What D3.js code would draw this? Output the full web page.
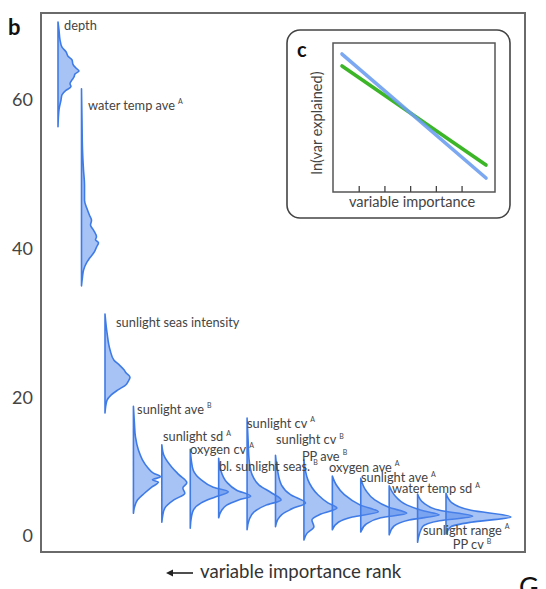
<!DOCTYPE html>
<html><head><meta charset="utf-8">
<script src="https://cdn.jsdelivr.net/npm/d3@7"></script>
<style>body{margin:0;background:#fff}svg{display:block}text{font-family:Lato,"Open Sans",sans-serif}</style>
</head><body><svg id="c" width="546" height="589"></svg>
<script>
// ---- data ----
const variables = ["depth","water temp ave","sunlight seas intensity","sunlight ave","sunlight sd","oxygen cv","bl. sunlight seas.","sunlight cv","sunlight cv","PP ave","oxygen ave","sunlight ave","water temp sd","sunlight range","PP cv"];
const superscripts = ["","A","","B","A","A","B","A","B","B","A","A","A","A","B"];
const ranks = [1,2,3,4,5,6,7,8,9,10,11,12,13,14,15];
// each distribution: [var explained value, density]
const dist1 = [[70.5,0],[69.4,0.1],[68.1,0.2],[67.1,0.4],[66.5,0.8],[65.9,1.0],[65.4,1.4],[64.8,1.5],[64.3,1.8],[63.9,2.1],[63.5,1.7],[63.1,1.6],[62.7,1.4],[62.2,1.2],[61.8,1.3],[61.3,0.8],[60.7,0.4],[60.0,0.3],[58.7,0.1],[56.4,0]];
const dist2 = [[61.5,0],[57.3,0.05],[53.3,0.1],[50.6,0.2],[48.6,0.3],[46.5,0.3],[45.2,0.6],[44.5,0.8],[43.8,1.0],[43.2,0.9],[42.5,1.2],[41.6,1.5],[41.2,1.4],[40.8,1.7],[40.2,1.5],[39.6,1.3],[38.7,0.8],[38.1,0.5],[37.1,0.2],[36.2,0.1],[35.0,0]];
const dist3 = [[31.2,0],[28.7,0.2],[26.4,0.5],[25.0,0.9],[24.4,1.4],[23.7,1.9],[23.3,2.1],[22.7,2.5],[22.1,2.3],[21.7,2.1],[21.0,1.3],[20.3,0.6],[19.6,0.2],[17.9,0]];
const dist4 = [[18.8,0],[16.5,0.1],[14.7,0.2],[12.9,0.5],[11.6,0.9],[10.6,1.4],[9.8,2.0],[9.3,2.7],[8.9,1.9],[8.6,2.5],[7.9,1.8],[7.1,1.1],[6.2,0.4],[5.2,0.1],[4.4,0]];
const dist5 = [[13.6,0],[12.2,0.2],[10.6,1.0],[9.6,1.7],[8.5,2.5],[7.8,2.1],[7.1,2.3],[6.2,1.2],[5.1,0.3],[4.2,0.1],[3.2,0]];
const dist6 = [[13.0,0],[11.6,0.1],[10.2,0.3],[8.9,1.1],[7.9,2.3],[7.3,3.8],[6.6,2.5],[5.8,1.1],[4.8,0.3],[3.8,0.1],[2.4,0]];
const dist7 = [[11.8,0],[10.2,0.2],[8.6,0.8],[7.5,1.8],[6.7,3.2],[6.2,2.0],[5.5,0.8],[4.8,0.3],[3.8,0]];
const dist8 = [[17.2,0],[14.3,0.1],[11.6,0.2],[9.6,0.5],[8.2,1.2],[7.1,2.5],[6.2,3.4],[5.5,1.9],[4.6,0.7],[3.5,0.2],[2.2,0]];
const dist9 = [[12.2,0],[10.2,0.2],[8.2,0.6],[6.9,1.5],[5.8,3.0],[5.1,1.8],[4.2,0.6],[3.5,0.2],[2.6,0]];
const dist10 = [[11.6,0],[8.9,0.4],[6.9,1.4],[5.8,2.4],[5.1,3.3],[4.3,1.7],[3.5,0.8],[2.6,1.0],[1.7,0.3],[0.8,0]];
const dist11 = [[9.4,0],[8.2,0.4],[6.9,1.2],[5.5,2.8],[4.6,4.6],[3.9,2.0],[3.2,0.6],[2.2,0]];
const dist12 = [[9.1,0],[7.5,0.5],[6.2,1.4],[5.2,2.8],[4.4,4.6],[3.8,2.0],[3.0,0.6],[1.9,0]];
const dist13 = [[8.1,0],[6.9,0.5],[5.5,1.8],[4.7,3.5],[4.2,5.0],[3.5,2.0],[2.7,0.5],[1.5,0]];
const dist14 = [[7.0,0],[5.8,0.6],[4.8,2.2],[4.0,5.5],[3.4,2.2],[2.6,0.5],[0.5,0]];
const dist15 = [[7.1,0],[5.8,0.6],[4.8,2.5],[3.9,6.5],[3.2,2.5],[2.6,0.5],[1.6,0]];
const distributions = [dist1,dist2,dist3,dist4,dist5,dist6,dist7,dist8,dist9,dist10,dist11,dist12,dist13,dist14,dist15];
// label anchors in data units: [rank, var explained]
const labelRank = [1.26,2.28,3.39,4.13,5.04,5.99,7.01,8.00,9.02,9.93,10.88,12.01,13.10,14.19,15.24];
const labelValue = [69.8,59.1,29.9,18.2,14.5,12.8,10.5,16.3,14.1,11.9,10.4,9.0,7.5,1.9,0.0];
const yTicks = [0,20,40,60];
// inset
const insetX = [0.35,5.95];
const insetBlue = [0.926,0.094];
const insetGreen = [0.846,0.181];
const insetTicks = [1,2,3,4,5];

// ---- drawing ----
const svg = d3.select("#c");
const x = d3.scaleLinear().domain([1,3,15]).range([58,105,446]);
const y = d3.scaleLinear().domain([0,60]).range([546,100]);
const dens = d3.scaleLinear().domain([0,1]).range([0,10]);

// frame
svg.append("rect").attr("x",41).attr("y",13).attr("width",484).attr("height",539)
  .attr("fill","none").attr("stroke","#6a6a6a").attr("stroke-width",2);

// y axis labels
const ya = svg.append("g").attr("transform","translate(41,0)")
  .call(d3.axisLeft(y).tickValues(yTicks).tickSize(0).tickPadding(8));
ya.select(".domain").remove();
ya.selectAll("text").attr("font-size",18).attr("fill","#444").style("font-family","Lato, sans-serif");
ya.selectAll(".tick").filter(d=>d===0).select("text").attr("dy","-0.25em");

// ridges
const area = d3.area().curve(d3.curveMonotoneY)
  .y(d=>y(d[0]));
distributions.forEach((dist,i)=>{
  const bx = x(ranks[i]);
  area.x0(bx).x1(d=>bx+dens(d[1]));
  svg.append("path").attr("d",area(dist))
    .attr("fill","#4f86ec").attr("fill-opacity",0.5)
    .attr("stroke","#3f7be6").attr("stroke-width",1.6).attr("stroke-linejoin","round");
});

// labels
variables.forEach((v,i)=>{
  const t = svg.append("text").attr("x",x(labelRank[i])).attr("y",y(labelValue[i]))
    .attr("dominant-baseline","middle").attr("font-size",12.8).attr("fill","#444").text(v);
  if (superscripts[i]) {
    t.append("tspan").attr("font-size",7).attr("dx",3).attr("dy",-4.5).text(superscripts[i]);
  }
});

// panel letter b
svg.append("text").attr("x",8).attr("y",35).attr("font-size",22).attr("font-weight","bold").attr("fill","#111").text("b");

// bottom label with arrow
svg.append("path").attr("d","M193,573 L170,573").attr("stroke","#222").attr("stroke-width",1.6);
svg.append("path").attr("d","M166,573 L173,569.5 L173,576.5 Z").attr("fill","#222");
svg.append("text").attr("x",200).attr("y",573).attr("dominant-baseline","middle").attr("font-size",18.6).attr("fill","#333").text("variable importance rank");
svg.append("text").attr("x",519).attr("y",597).attr("font-size",27).attr("fill","#111").text("G");

// inset
svg.append("rect").attr("x",287).attr("y",30).attr("width",223).attr("height",188).attr("rx",13)
  .attr("fill","#fff").attr("stroke","#444").attr("stroke-width",1.6);
svg.append("rect").attr("x",333).attr("y",43).attr("width",162).attr("height",149)
  .attr("fill","#fff").attr("stroke","#555").attr("stroke-width",1.5);
const ix = d3.scaleLinear().domain([0,6.3]).range([333,495]);
const iy = d3.scaleLinear().domain([0,1]).range([192,43]);
const ig = svg.append("g").attr("transform","translate(0,192)")
  .call(d3.axisTop(ix).tickValues(insetTicks).tickSize(6).tickFormat(""));
ig.select(".domain").remove();
ig.selectAll("line").attr("stroke","#444").attr("stroke-width",1.3);
const line = d3.line().x((d,i)=>ix(insetX[i])).y(d=>iy(d));
svg.append("path").attr("d",line(insetGreen)).attr("stroke","#3cb527").attr("stroke-width",3.6).attr("fill","none").attr("stroke-linecap","round");
svg.append("path").attr("d",line(insetBlue)).attr("stroke","#6d9ff0").attr("stroke-width",3.6).attr("fill","none").attr("stroke-linecap","round").attr("stroke-opacity",0.9);
svg.append("text").attr("x",297).attr("y",57).attr("font-size",20).attr("font-weight","bold").attr("fill","#111").text("c");
svg.append("text").attr("transform","translate(322,123) rotate(-90)").attr("text-anchor","middle")
  .attr("font-size",14.5).attr("fill","#444").text("ln(var explained)");
svg.append("text").attr("x",412).attr("y",207).attr("text-anchor","middle")
  .attr("font-size",14.6).attr("fill","#444").text("variable importance");
</script></body></html>
